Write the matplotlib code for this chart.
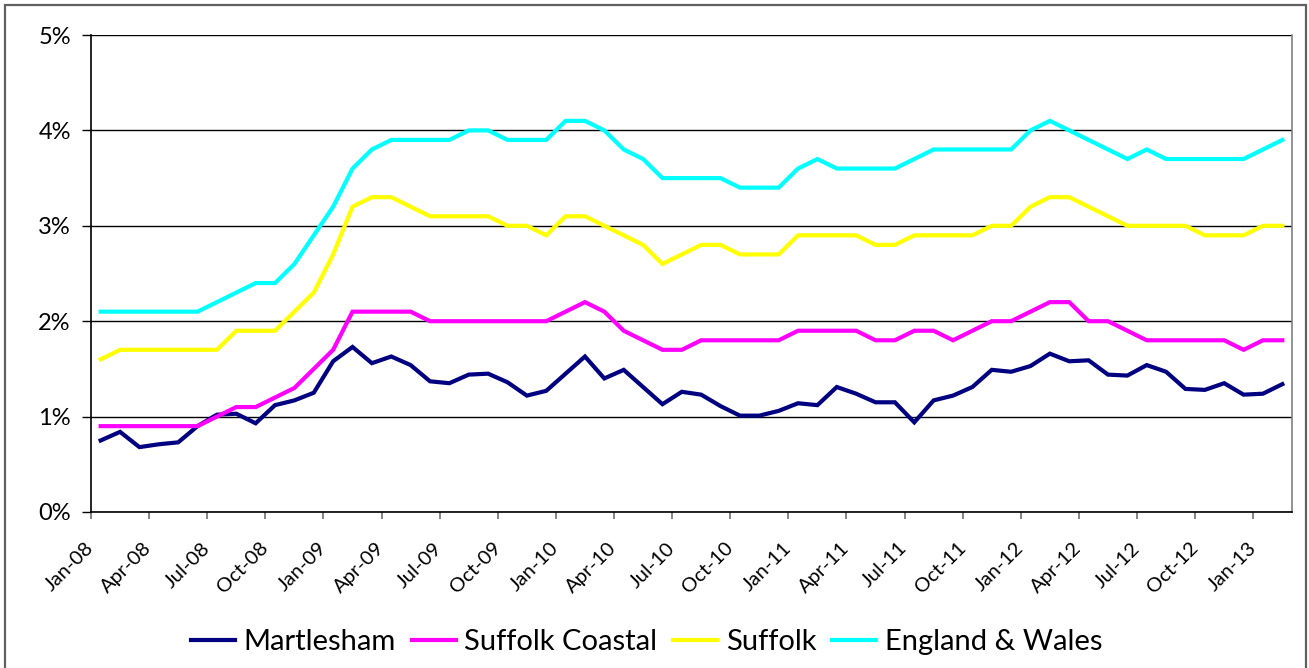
import matplotlib
matplotlib.use('Agg')
import matplotlib.pyplot as plt
import matplotlib.ticker as ticker
from matplotlib.patches import Rectangle

plt.rcParams['font.family'] = ['Lato', 'DejaVu Sans']

# monthly values, Jan-08 .. Feb-13 (percent)
martlesham = [0.75, 0.84, 0.68, 0.71, 0.73, 0.90, 1.02, 1.03, 0.93, 1.12,
              1.17, 1.25, 1.58, 1.73, 1.56, 1.63, 1.54, 1.37, 1.35, 1.44,
              1.45, 1.36, 1.22, 1.27, 1.45, 1.63, 1.40, 1.49, 1.31, 1.13,
              1.26, 1.23, 1.11, 1.01, 1.01, 1.06, 1.14, 1.12, 1.31, 1.24,
              1.15, 1.15, 0.94, 1.17, 1.22, 1.31, 1.49, 1.47, 1.53, 1.66,
              1.58, 1.59, 1.44, 1.43, 1.54, 1.47, 1.29, 1.28, 1.35, 1.23,
              1.24, 1.34]
suffolk_coastal = [0.9, 0.9, 0.9, 0.9, 0.9, 0.9, 1.0, 1.1, 1.1, 1.2,
                   1.3, 1.5, 1.7, 2.1, 2.1, 2.1, 2.1, 2.0, 2.0, 2.0,
                   2.0, 2.0, 2.0, 2.0, 2.1, 2.2, 2.1, 1.9, 1.8, 1.7,
                   1.7, 1.8, 1.8, 1.8, 1.8, 1.8, 1.9, 1.9, 1.9, 1.9,
                   1.8, 1.8, 1.9, 1.9, 1.8, 1.9, 2.0, 2.0, 2.1, 2.2,
                   2.2, 2.0, 2.0, 1.9, 1.8, 1.8, 1.8, 1.8, 1.8, 1.7,
                   1.8, 1.8]
suffolk = [1.6, 1.7, 1.7, 1.7, 1.7, 1.7, 1.7, 1.9, 1.9, 1.9,
           2.1, 2.3, 2.7, 3.2, 3.3, 3.3, 3.2, 3.1, 3.1, 3.1,
           3.1, 3.0, 3.0, 2.9, 3.1, 3.1, 3.0, 2.9, 2.8, 2.6,
           2.7, 2.8, 2.8, 2.7, 2.7, 2.7, 2.9, 2.9, 2.9, 2.9,
           2.8, 2.8, 2.9, 2.9, 2.9, 2.9, 3.0, 3.0, 3.2, 3.3,
           3.3, 3.2, 3.1, 3.0, 3.0, 3.0, 3.0, 2.9, 2.9, 2.9,
           3.0, 3.0]
england_wales = [2.1, 2.1, 2.1, 2.1, 2.1, 2.1, 2.2, 2.3, 2.4, 2.4,
                 2.6, 2.9, 3.2, 3.6, 3.8, 3.9, 3.9, 3.9, 3.9, 4.0,
                 4.0, 3.9, 3.9, 3.9, 4.1, 4.1, 4.0, 3.8, 3.7, 3.5,
                 3.5, 3.5, 3.5, 3.4, 3.4, 3.4, 3.6, 3.7, 3.6, 3.6,
                 3.6, 3.6, 3.7, 3.8, 3.8, 3.8, 3.8, 3.8, 4.0, 4.1,
                 4.0, 3.9, 3.8, 3.7, 3.8, 3.7, 3.7, 3.7, 3.7, 3.7,
                 3.8, 3.9]
tick_labels = ['Jan-08', 'Apr-08', 'Jul-08', 'Oct-08',
               'Jan-09', 'Apr-09', 'Jul-09', 'Oct-09',
               'Jan-10', 'Apr-10', 'Jul-10', 'Oct-10',
               'Jan-11', 'Apr-11', 'Jul-11', 'Oct-11',
               'Jan-12', 'Apr-12', 'Jul-12', 'Oct-12', 'Jan-13']

series = [('Martlesham', martlesham, '#000080'),
          ('Suffolk Coastal', suffolk_coastal, '#FF00FF'),
          ('Suffolk', suffolk, '#FFFF00'),
          ('England & Wales', england_wales, '#00FFFF')]

fig = plt.figure(figsize=(13.09, 6.68), dpi=100)
ax = fig.add_axes([91 / 1309, 1 - 512 / 668, (1292 - 91) / 1309, (512 - 35) / 668])

n = len(martlesham)
xs = [i + 0.5 for i in range(n)]
for name, vals, col in series:
    ax.plot(xs, vals, color=col, lw=3.0, label=name, solid_joinstyle='miter')

ax.set_xlim(0, n)
ax.set_ylim(0, 5)
ax.set_yticks([0, 1, 2, 3, 4, 5])
ax.yaxis.set_major_formatter(ticker.FuncFormatter(lambda v, p: '%d%%' % v))
ax.set_xticks(range(0, 3 * len(tick_labels), 3))
ax.set_xticklabels(tick_labels, rotation=45, ha='right', va='center',
                   rotation_mode='anchor')
ax.tick_params(axis='x', length=5, width=1.2, labelsize=14.5, pad=19, color='#707070')
ax.tick_params(axis='y', length=6.5, width=1, labelsize=17, pad=8)
ax.grid(axis='y', color='black', lw=1)
ax.set_axisbelow(True)
for s in ['left', 'bottom']:
    ax.spines[s].set_color('black')
    ax.spines[s].set_linewidth(1.2)
ax.spines['top'].set_visible(False)
ax.spines['right'].set_color('#808080')
ax.spines['right'].set_linewidth(1.2)

fig.legend(loc='center', bbox_to_anchor=(0.494, 1 - 642 / 668), ncol=4,
           frameon=False, fontsize=21, handlelength=1.5, handletextpad=0.3,
           columnspacing=0.55)

# outer chart border
fig.patches.append(Rectangle((5 / 1309, -0.02), 1301 / 1309, 1.02 - 5 / 668,
                             transform=fig.transFigure, fill=False,
                             edgecolor='#606060', lw=1.6))

fig.savefig('out.png', dpi=100)
